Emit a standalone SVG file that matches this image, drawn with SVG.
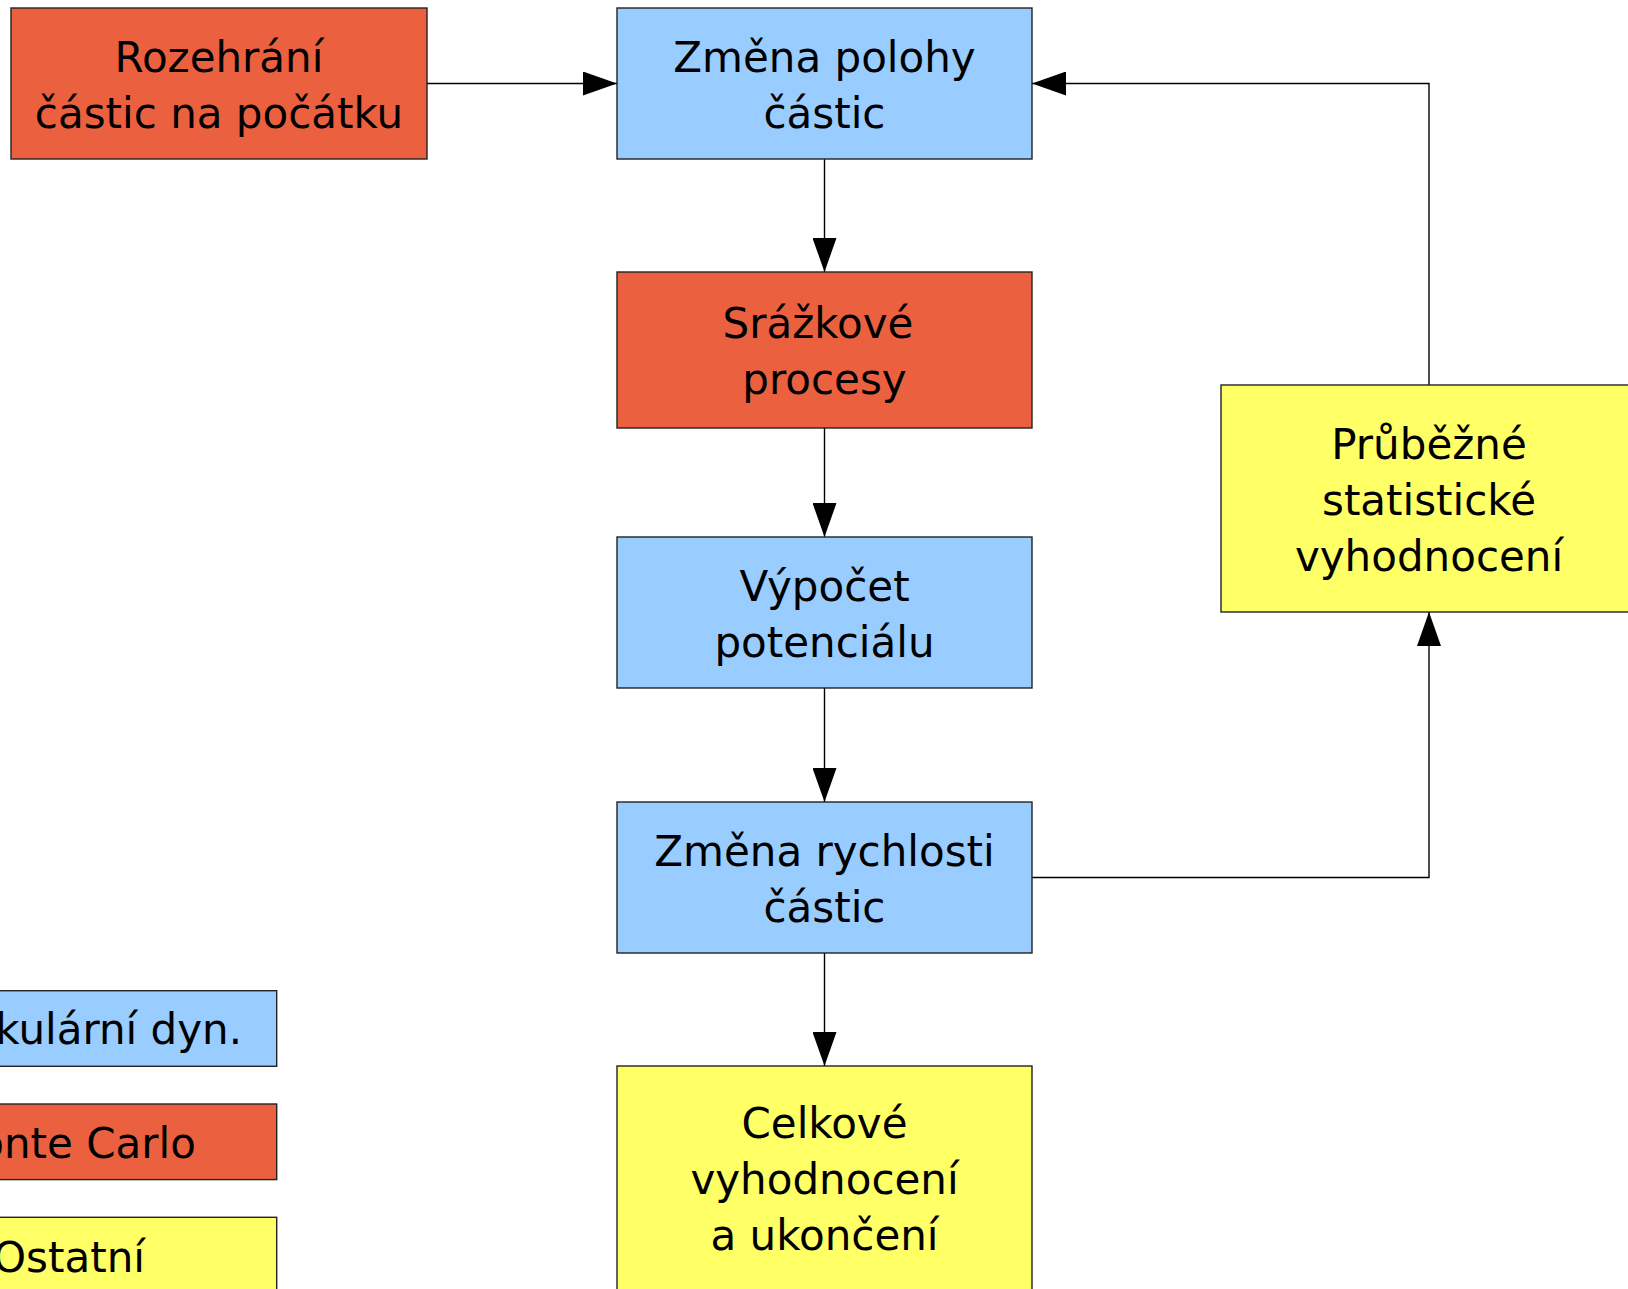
<svg xmlns="http://www.w3.org/2000/svg" width="1628" height="1289" viewBox="0 0 1628 1289">
<style>
.box{stroke:#222;stroke-width:1.4}
.md{fill:#99ccff}
.mc{fill:#eb613f}
.ot{fill:#ffff66}
text{font-family:"DejaVu Sans","Verdana",sans-serif;font-size:42px;fill:#000;text-anchor:middle}
.con{fill:none;stroke:#000;stroke-width:1.4}
</style>
<defs>
<marker id="arr" markerUnits="userSpaceOnUse" markerWidth="34" markerHeight="24" refX="34" refY="12" orient="auto">
<path d="M0,0 L34,12 L0,24 Z" fill="#000"/>
</marker>
</defs>
<rect width="1628" height="1289" fill="#fff"/>
<g id="connectors">
<path class="con" d="M427,83.5 H617" marker-end="url(#arr)"/>
<path class="con" d="M824.5,159 V272" marker-end="url(#arr)"/>
<path class="con" d="M824.5,428 V537" marker-end="url(#arr)"/>
<path class="con" d="M824.5,688 V802" marker-end="url(#arr)"/>
<path class="con" d="M824.5,953 V1066" marker-end="url(#arr)"/>
<path class="con" d="M1032,877.5 H1429 V612" marker-end="url(#arr)"/>
<path class="con" d="M1429,385 V83.5 H1032" marker-end="url(#arr)"/>
</g>
<g id="rozehrani">
<rect class="box mc" x="11" y="8" width="416" height="151"/>
<text x="219" y="71.7">Rozehrání</text>
<text x="219" y="127.7">částic na počátku</text>
</g>
<g id="zmena-polohy">
<rect class="box md" x="617" y="8" width="415" height="151"/>
<text x="824.5" y="71.7">Změna polohy</text>
<text x="824.5" y="127.7">částic</text>
</g>
<g id="srazkove">
<rect class="box mc" x="617" y="272" width="415" height="156"/>
<text x="818" y="338">Srážkové</text>
<text x="824.5" y="394">procesy</text>
</g>
<g id="vypocet">
<rect class="box md" x="617" y="537" width="415" height="151"/>
<text x="824.5" y="600.7">Výpočet</text>
<text x="824.5" y="656.7">potenciálu</text>
</g>
<g id="zmena-rychlosti">
<rect class="box md" x="617" y="802" width="415" height="151"/>
<text x="824.5" y="865.7">Změna rychlosti</text>
<text x="824.5" y="921.7">částic</text>
</g>
<g id="celkove">
<rect class="box ot" x="617" y="1066" width="415" height="240"/>
<text x="824.5" y="1138">Celkové</text>
<text x="824.5" y="1194">vyhodnocení</text>
<text x="824.5" y="1250">a ukončení</text>
</g>
<g id="prubezne">
<rect class="box ot" x="1221" y="385" width="416" height="227"/>
<text x="1429" y="458.5">Průběžné</text>
<text x="1429" y="514.5">statistické</text>
<text x="1429" y="570.5">vyhodnocení</text>
</g>
<g id="legend-md">
<rect class="box md" x="-139" y="990.7" width="415.7" height="75.6"/>
<text x="69" y="1044">Molekulární dyn.</text>
</g>
<g id="legend-mc">
<rect class="box mc" x="-139" y="1104" width="415.7" height="75.6"/>
<text x="69" y="1158">Monte Carlo</text>
</g>
<g id="legend-ot">
<rect class="box ot" x="-139" y="1217.3" width="415.7" height="75.6"/>
<text x="69" y="1272">Ostatní</text>
</g>
</svg>
